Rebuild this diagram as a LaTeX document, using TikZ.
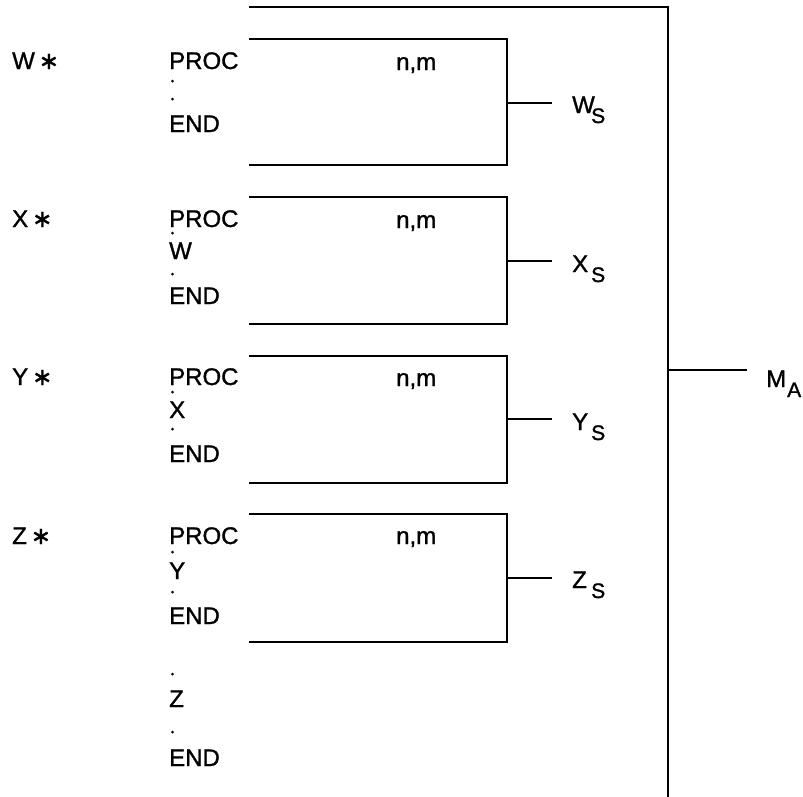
\documentclass[tikz,border=0pt]{standalone}
\usepackage{fontspec}
\setmainfont{Liberation Sans}[FakeBold=1.2]
\newfontfamily\symfont{DejaVu Sans}[FakeBold=1.5]
\newcommand{\st}{{\symfont\char"2217}}
\begin{document}
\begin{tikzpicture}[x=1pt,y=-1pt,
  lbl/.style={anchor=base west,inner sep=0pt,font=\fontsize{24}{28}\selectfont},
  sub/.style={anchor=base west,inner sep=0pt,font=\fontsize{21}{25}\selectfont},
  dot/.style={circle,fill=black,inner sep=0pt,minimum size=3pt},
  boxline/.style={line width=1.8pt},
  outerline/.style={line width=2.4pt},
  conn/.style={line width=1.5pt}]
\useasboundingbox (0,0) rectangle (803,796);
% outer bracket
\coordinate (otl) at (249,7);
\coordinate (otr) at (668,7);
\coordinate (obr) at (668,798);
\draw[outerline] (otl) -- (otr) -- (obr);
\coordinate (oma) at (668,370);
\coordinate (ema) at (747,370);
\draw[conn] (oma) -- (ema);
\node[lbl] (ma) at (766,387) {M};
\node[sub] (maA) at (787,397) {A};
% boxes
\foreach \n/\t/\b/\m/\lb/\ll in {w/39/165/103/113/W, x/197/324/261/272/X, y/356/483/419/430/Y, z/514/642/578/588/Z}{
  \coordinate (\n tl) at (249,\t);
  \coordinate (\n tr) at (507,\t);
  \coordinate (\n br) at (507,\b);
  \coordinate (\n bl) at (249,\b);
  \draw[boxline] (\n tl) -- (\n tr) -- (\n br) -- (\n bl);
  \coordinate (\n c) at (507,\m);
  \coordinate (\n e) at (552,\m);
  \draw[conn] (\n c) -- (\n e);
  \node[lbl] (\n lab) at (572,\lb) {\ll};
  \node[sub] (\n sub) at (591,\lb+10) {S};
}
% left labels
\node[lbl] (ws) at (12,69) {W\,\st};
\node[lbl] (xs) at (12,227) {X\,\st};
\node[lbl] (ys) at (12,385) {Y\,\st};
\node[lbl] (zs) at (12,544) {Z\,\st};
% box 1
\node[lbl] (p1) at (169,69) {PROC};
\node[dot] (d11) at (172.5,81) {};
\node[dot] (d12) at (172.5,99) {};
\node[lbl] (e1) at (169,132) {END};
\node[lbl] (nm1) at (396,70) {n,m};
% box 2
\node[lbl] (p2) at (169,227) {PROC};
\node[dot] (d21) at (172.5,233) {};
\node[lbl] (c2) at (169,259) {W};
\node[dot] (d22) at (172.5,274) {};
\node[lbl] (e2) at (169,304) {END};
\node[lbl] (nm2) at (396,228) {n,m};
% box 3
\node[lbl] (p3) at (169,385) {PROC};
\node[dot] (d31) at (172.5,392) {};
\node[lbl] (c3) at (169,418) {X};
\node[dot] (d32) at (172.5,429) {};
\node[lbl] (e3) at (169,462) {END};
\node[lbl] (nm3) at (396,386) {n,m};
% box 4
\node[lbl] (p4) at (169,544) {PROC};
\node[dot] (d41) at (172.5,552) {};
\node[lbl] (c4) at (169,579) {Y};
\node[dot] (d42) at (172.5,592) {};
\node[lbl] (e4) at (169,624) {END};
\node[lbl] (nm4) at (396,544) {n,m};
% tail
\node[dot] (d51) at (172.5,674) {};
\node[lbl] (c5) at (169,707) {Z};
\node[dot] (d52) at (172.5,732) {};
\node[lbl] (e5) at (169,766) {END};
\end{tikzpicture}
\end{document}
